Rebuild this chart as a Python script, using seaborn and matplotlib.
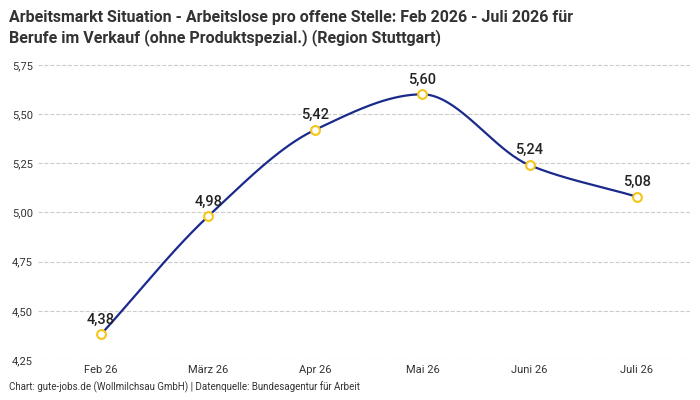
import numpy as np
import pandas as pd
import matplotlib
matplotlib.use('Agg')
import matplotlib.pyplot as plt
import seaborn as sns

# Data
months = ['Feb 26', 'März 26', 'Apr 26', 'Mai 26', 'Juni 26', 'Juli 26']
values = [4.38, 4.98, 5.42, 5.60, 5.24, 5.08]
df = pd.DataFrame({'month': months, 'value': values, 'pos': range(len(months))})

sns.set_style('white')
plt.rcParams['font.family'] = ['Roboto', 'DejaVu Sans']

fig = plt.figure(figsize=(7, 4), dpi=100, facecolor='w')
ax = fig.add_axes([0.054, 0.1, 0.932, 0.77])

# Smooth line (monotone cubic Hermite through the data points)
x = df['pos'].to_numpy(dtype=float)
y = df['value'].to_numpy()
d = np.diff(y) / np.diff(x)
m = np.zeros_like(y)
m[0], m[-1] = d[0], d[-1]
for i in range(1, len(y) - 1):
    if d[i - 1] * d[i] > 0:
        m[i] = 2 / (1 / d[i - 1] + 1 / d[i])
xs, ys = [], []
for i in range(len(y) - 1):
    t = np.linspace(0, 1, 40)
    h00 = 2 * t**3 - 3 * t**2 + 1
    h10 = t**3 - 2 * t**2 + t
    h01 = -2 * t**3 + 3 * t**2
    h11 = t**3 - t**2
    xs.extend(x[i] + t)
    ys.extend(h00 * y[i] + h10 * m[i] + h01 * y[i + 1] + h11 * m[i + 1])
ax.plot(xs, ys, color='#1a2a8c', lw=1.6, zorder=2)
sns.scatterplot(data=df, x='pos', y='value', ax=ax, s=40, facecolor='white',
                edgecolor='#f5c518', linewidth=1.5, zorder=3)

for xi, yi in zip(x, y):
    ax.text(xi, yi + 0.04, f'{yi:.2f}'.replace('.', ','), ha='center', va='bottom',
            fontsize=10.5, fontweight='medium', color='#222222')

ax.set_xlim(-0.59, 5.5)
ax.set_ylim(4.25, 5.815)
ax.set_xticks(x)
ax.set_xticklabels(months)
yt = [4.25, 4.5, 4.75, 5.0, 5.25, 5.5, 5.75]
ax.set_yticks(yt)
ax.set_yticklabels([f'{v:.2f}'.replace('.', ',') for v in yt])
ax.tick_params(axis='both', labelsize=8, colors='#333333', length=0)
ax.yaxis.grid(True, ls='--', color='#cccccc', lw=0.8)
ax.set_axisbelow(True)
ax.set_xlabel('')
ax.set_ylabel('')
for s in ax.spines.values():
    s.set_visible(False)

fig.text(0.013, 0.975, 'Arbeitsmarkt Situation - Arbeitslose pro offene Stelle: Feb 2026 - Juli 2026 für\n'
         'Berufe im Verkauf (ohne Produktspezial.) (Region Stuttgart)',
         ha='left', va='top', fontsize=11.5, fontweight='bold', color='#333333', linespacing=1.3)
fig.text(0.013, 0.018, 'Chart: gute-jobs.de (Wollmilchsau GmbH) | Datenquelle: Bundesagentur für Arbeit',
         ha='left', va='bottom', fontsize=7, color='#333333')

plt.savefig('out.png', dpi=100)
